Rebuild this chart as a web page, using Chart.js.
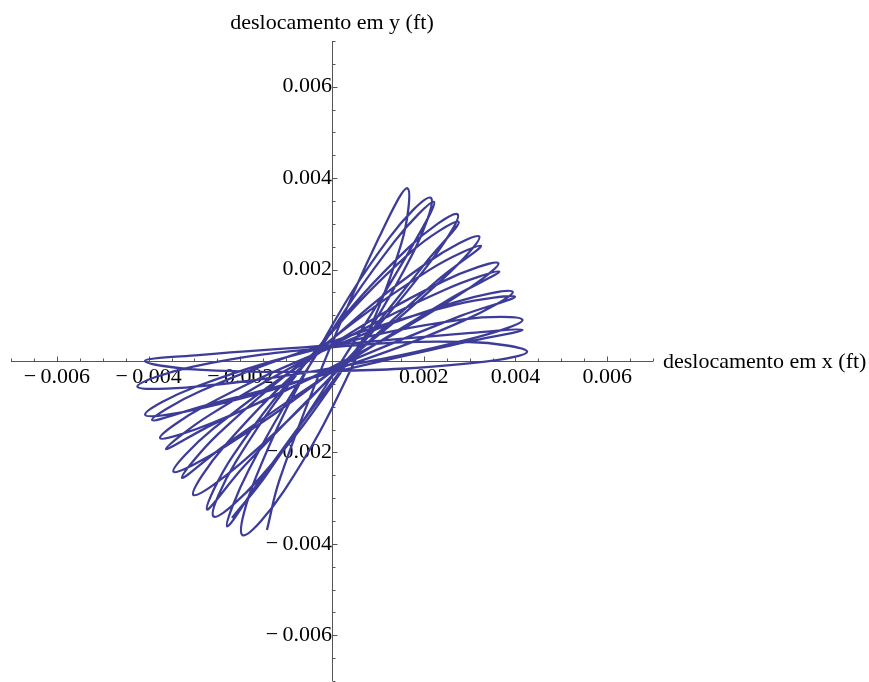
<!DOCTYPE html>
<html>
<head>
<meta charset="utf-8">
<script src="https://cdn.jsdelivr.net/npm/chart.js@4/dist/chart.umd.min.js"></script>
<style>
  html, body { margin: 0; padding: 0; background: #fff; }
</style>
</head>
<body>
<canvas id="chart" width="869" height="682"></canvas>
<script>
// trajetória (ft)
const xDisp = [
  -0.001419, -0.001141, -0.000139, 0.001024, 0.001643,
  0.001505, 0.000407, -0.001039, -0.001950,
  -0.001652, -0.000332, 0.001256, 0.002154,
  0.001778, 0.000248, -0.001577, -0.002582,
  -0.002089, -0.000327, 0.001681, 0.002740,
  0.002107, 0.000160, -0.001977, -0.003023,
  -0.002340, -0.000235, 0.002074, 0.003211,
  0.002394, 0.000110, -0.002329, -0.003457,
  -0.002595, -0.000163, 0.002423, 0.003627,
  0.002637, 0.000055, -0.002615, -0.003749,
  -0.002765, -0.000108, 0.002676, 0.003940,
  0.002859, 0.000064, -0.002816, -0.004074,
  -0.002958, -0.000081, 0.002869, 0.004154,
  0.002976, 0.000026, -0.002969, -0.004243,
  -0.003028, -0.000027, 0.002994, 0.004255,
  0.002987, 0.000005, -0.002925, -0.004080,
  -0.002914, -0.000029, 0.002903, 0.004155,
  0.002938, 0.000059, -0.002772, -0.003924,
  -0.002876, -0.000128, 0.002716, 0.003990,
  0.002804, 0.000064, -0.002579, -0.003620,
  -0.002664, -0.000141, 0.002475, 0.003649,
  0.002592, 0.000109, -0.002304, -0.003270,
  -0.002473, -0.000233, 0.002135, 0.003248,
  0.002325, 0.000166, -0.001907, -0.002725,
  -0.002159, -0.000316, 0.001723, 0.002761,
  0.002028, 0.000223, -0.001547, -0.002287,
  -0.001821, -0.000304, 0.001369, 0.002225,
  0.001673, 0.000152, -0.001441, -0.002181
];
const yDisp = [
  -0.003697, -0.002590, 0.000057, 0.002699, 0.003778,
  0.002547, -0.000192, -0.002831, -0.003810,
  -0.002524, 0.000185, 0.002704, 0.003571,
  0.002384, -0.000168, -0.002562, -0.003401,
  -0.002190, 0.000263, 0.002492, 0.003209,
  0.002119, -0.000151, -0.002230, -0.002930,
  -0.001854, 0.000260, 0.002148, 0.002723,
  0.001773, -0.000143, -0.001870, -0.002421,
  -0.001487, 0.000252, 0.001742, 0.002137,
  0.001360, -0.000107, -0.001357, -0.001685,
  -0.000980, 0.000259, 0.001284, 0.001512,
  0.000878, -0.000189, -0.001027, -0.001176,
  -0.000557, 0.000319, 0.000911, 0.000898,
  0.000472, -0.000148, -0.000560, -0.000559,
  -0.000121, 0.000298, 0.000416, 0.000201,
  -0.000051, -0.000220, -0.000190, 0.000000,
  0.000130, 0.000349, 0.000605, 0.000680,
  0.000418, -0.000243, -0.000977, -0.001290,
  -0.000663, 0.000379, 0.001240, 0.001405,
  0.000986, -0.000147, -0.001375, -0.001925,
  -0.001179, 0.000264, 0.001565, 0.001957,
  0.001371, -0.000167, -0.001820, -0.002555,
  -0.001588, 0.000300, 0.001999, 0.002519,
  0.001787, -0.000173, -0.002291, -0.003248,
  -0.002068, 0.000276, 0.002385, 0.003045,
  0.002130, -0.000170, -0.002576, -0.003618,
  -0.002395, 0.000193, 0.002623, 0.003480,
  0.002383, -0.000097, -0.002505, -0.003432
];
const labelValues = [-0.006, -0.004, -0.002, 0.002, 0.004, 0.006];
const xTitle = "deslocamento em x (ft)";
const yTitle = "deslocamento em y (ft)";

const FONT = '"Liberation Serif", "Times New Roman", serif';
const AXIS_MIN = -0.007, AXIS_MAX = 0.007, MINOR_STEP = 0.0005;
const AXIS_COLOR = "#555";

function isMajor(v) {
  return labelValues.some(l => Math.abs(l - v) < 1e-9);
}

function tickLabel(v) {
  const hit = labelValues.find(l => Math.abs(l - v) < 1e-9);
  if (hit === undefined) return "";
  return hit < 0 ? "\u2212\u2009" + Math.abs(hit).toFixed(3) : hit.toFixed(3);
}

// eixos no estilo Mathematica: linhas cruzando na origem, marcas para cima / direita
const axesPlugin = {
  id: "mmaAxes",
  beforeDatasetsDraw(chart) {
    const ctx = chart.ctx;
    const xs = chart.scales.x, ys = chart.scales.y;
    const ox = Math.round(xs.getPixelForValue(0)) + 0.5;
    const oy = Math.round(ys.getPixelForValue(0)) + 0.5;
    ctx.save();
    ctx.strokeStyle = AXIS_COLOR;
    ctx.lineWidth = 1;
    ctx.beginPath();
    ctx.moveTo(xs.left, oy); ctx.lineTo(xs.right, oy);
    ctx.moveTo(ox, ys.top); ctx.lineTo(ox, ys.bottom);
    xs.ticks.forEach(t => {
      if (Math.abs(t.value) < 1e-9) return;
      const px = Math.round(xs.getPixelForValue(t.value)) + 0.5;
      const len = isMajor(t.value) ? 5 : 3;
      ctx.moveTo(px, oy); ctx.lineTo(px, oy - len);
    });
    ys.ticks.forEach(t => {
      if (Math.abs(t.value) < 1e-9) return;
      const py = Math.round(ys.getPixelForValue(t.value)) + 0.5;
      const len = isMajor(t.value) ? 5 : 3;
      ctx.moveTo(ox, py); ctx.lineTo(ox + len, py);
    });
    ctx.stroke();
    ctx.restore();
  },
  afterDraw(chart) {
    const ctx = chart.ctx;
    const xs = chart.scales.x, ys = chart.scales.y;
    const ox = xs.getPixelForValue(0), oy = ys.getPixelForValue(0);
    ctx.save();
    ctx.fillStyle = "#000";
    ctx.font = "22px " + FONT;
    ctx.textBaseline = "alphabetic";
    ctx.textAlign = "left";
    ctx.fillText(xTitle, xs.right + 10, oy + 6.5);
    ctx.textAlign = "center";
    ctx.fillText(yTitle, ox, ys.top - 12);
    ctx.restore();
  }
};

const zeroPad = s => { s.paddingLeft = 0; s.paddingRight = 0; s.paddingTop = 0; s.paddingBottom = 0; };

new Chart(document.getElementById("chart"), {
  type: "scatter",
  data: {
    datasets: [{
      data: xDisp.map((x, i) => ({ x: x, y: yDisp[i] })),
      showLine: true,
      borderColor: "#3d3d99",
      borderWidth: 2.3,
      pointRadius: 0,
      tension: 0.4,
      fill: false
    }]
  },
  options: {
    responsive: false,
    animation: false,
    layout: { padding: { left: 11, right: 216, top: 41, bottom: 1 } },
    plugins: { legend: { display: false }, tooltip: { enabled: false } },
    scales: {
      x: {
        type: "linear",
        position: { y: 0 },
        min: AXIS_MIN, max: AXIS_MAX,
        grid: { display: false, drawTicks: false },
        border: { display: false },
        ticks: {
          stepSize: MINOR_STEP, autoSkip: false, maxRotation: 0, minRotation: 0,
          padding: 3, color: "#000", font: { family: FONT, size: 22 },
          callback: tickLabel
        },
        afterFit: zeroPad
      },
      y: {
        type: "linear",
        position: { x: 0 },
        min: AXIS_MIN, max: AXIS_MAX,
        grid: { display: false, drawTicks: false },
        border: { display: false },
        ticks: {
          stepSize: MINOR_STEP, autoSkip: false,
          padding: 7, color: "#000", font: { family: FONT, size: 22 },
          callback: tickLabel
        },
        afterFit: zeroPad
      }
    }
  },
  plugins: [axesPlugin]
});
</script>
</body>
</html>
